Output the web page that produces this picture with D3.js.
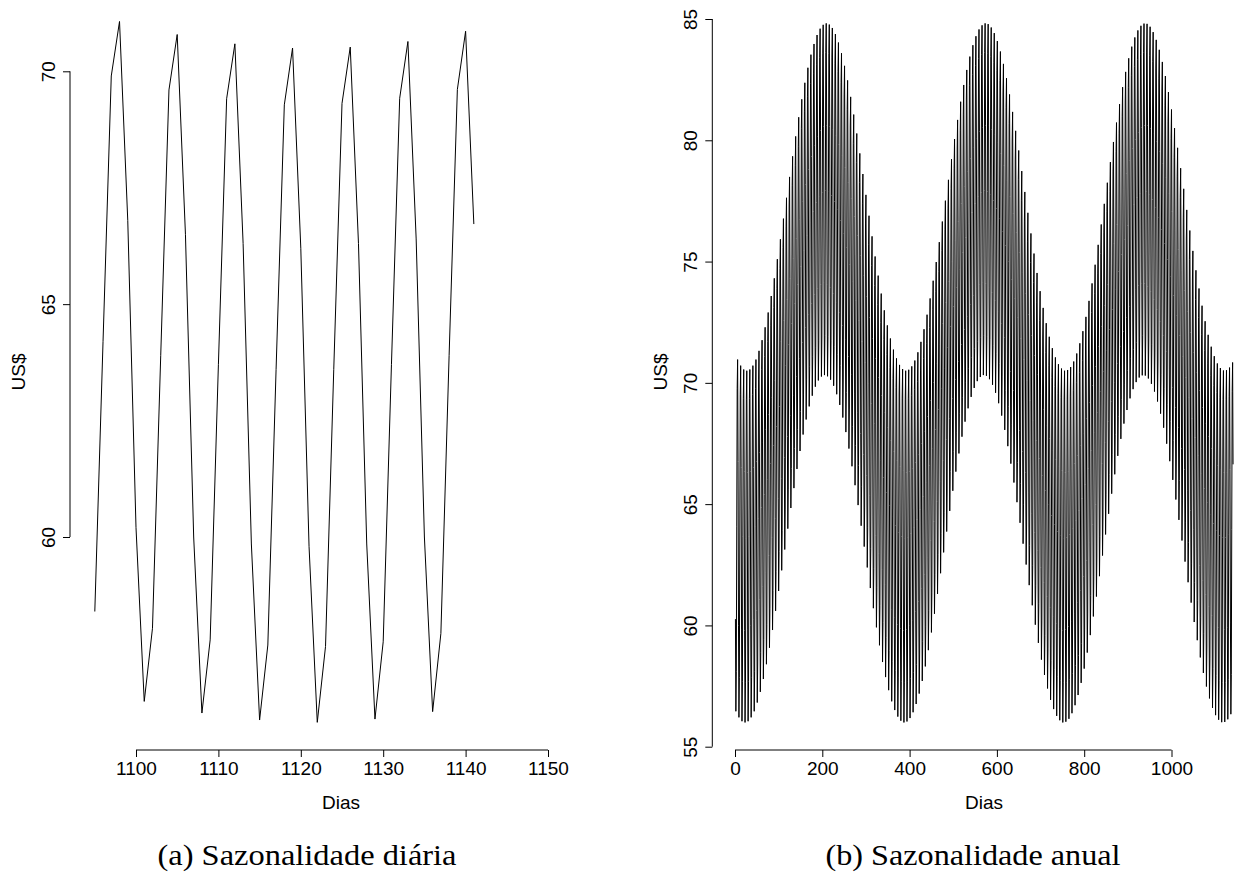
<!DOCTYPE html>
<html>
<head>
<meta charset="utf-8">
<script src="https://cdn.jsdelivr.net/npm/d3@7"></script>
<style>
  html, body { margin: 0; padding: 0; background: #fff; }
  svg { display: block; }
</style>
</head>
<body>
<svg id="chart" width="1237" height="894"></svg>
<script>
// ---------------- DATA ----------------
// (a) Daily seasonality: last 47 days of the series
const startDayA = 1095;
const valuesA = [
  58.4, 64.2, 69.9, 71.07, 66.8, 60.2, 56.47,
  58.04, 63.9, 69.6, 70.79, 66.5, 60.0, 56.22,
  57.79, 63.7, 69.41, 70.59, 66.3, 59.85, 56.07,
  57.68, 63.6, 69.28, 70.5, 66.2, 59.8, 56.02,
  57.65, 63.6, 69.31, 70.52, 66.3, 59.85, 56.09,
  57.75, 63.7, 69.42, 70.64, 66.4, 60.0, 56.25,
  57.93, 63.9, 69.61, 70.86, 66.72
];
const xTicksA = [1100, 1110, 1120, 1130, 1140, 1150];
const yTicksA = [60, 65, 70];

// (b) Annual seasonality: weekly pattern (days 1..7 of each week) + annual level of each week
const weekPatternB = [59.8, 56.0, 57.63, 63.6, 69.3, 70.5, 66.3];
const annualB = [
  0.46, 0.21, 0.05, 0.00, 0.05, 0.21, 0.46, 0.82, 1.26, 1.79,
  2.40, 3.08, 3.81, 4.60, 5.42, 6.27, 7.13, 7.99, 8.84, 9.66,
  10.45, 11.19, 11.87, 12.49, 13.03, 13.47, 13.84, 14.10, 14.26, 14.32,
  14.27, 14.13, 13.88, 13.53, 13.09, 12.57, 11.97, 11.29, 10.56, 9.78,
  8.96, 8.11, 7.25, 6.39, 5.54, 4.71, 3.92, 3.18, 2.49, 1.87,
  1.33, 0.87, 0.51, 0.24, 0.07, 0.00, 0.04, 0.18, 0.42, 0.76,
  1.19, 1.71, 2.31, 2.98, 3.71, 4.48, 5.30, 6.15, 7.01, 7.87,
  8.72, 9.55, 10.34, 11.09, 11.78, 12.40, 12.95, 13.42, 13.79, 14.07,
  14.24, 14.32, 14.29, 14.15, 13.92, 13.59, 13.16, 12.65, 12.06, 11.39,
  10.67, 9.89, 9.08, 8.23, 7.37, 6.51, 5.66, 4.83, 4.03, 3.28,
  2.59, 1.96, 1.40, 0.93, 0.55, 0.27, 0.09, 0.00, 0.03, 0.15,
  0.38, 0.71, 1.13, 1.63, 2.22, 2.88, 3.60, 4.37, 5.19, 6.03,
  6.88, 7.75, 8.60, 9.43, 10.23, 10.99, 11.69, 12.32, 12.88, 13.36,
  13.74, 14.03, 14.22, 14.31, 14.30, 14.18, 13.96, 13.64, 13.23, 12.73,
  12.15, 11.49, 10.77, 10.00, 9.19, 8.35, 7.50, 6.63, 5.78, 4.94,
  4.14, 3.39, 2.68, 2.04, 1.48, 0.99, 0.60, 0.30, 0.11, 0.01,
  0.02, 0.13, 0.34
];
const xTicksB = [0, 200, 400, 600, 800, 1000];
const yTicksB = [55, 60, 65, 70, 75, 80, 85];

const xLabel = "Dias";
const yLabel = "US$";
const captionA = "(a) Sazonalidade diária";
const captionB = "(b) Sazonalidade anual";

// ---------------- BUILD ----------------
const dataA = valuesA.map((v, i) => ({ day: startDayA + i, value: v }));
const dataB = [];
annualB.forEach((lvl, k) => {
  weekPatternB.forEach((w, j) => {
    dataB.push({ day: 7 * k + j + 1, value: lvl + w });
  });
});

const svg = d3.select("#chart");
const FONT = "'Liberation Sans', Arial, Helvetica, sans-serif";
const SERIF = "'Liberation Serif', 'DejaVu Serif', serif";
const FS = 19;

function panel(cfg) {
  const g = svg.append("g");
  const x = d3.scaleLinear().domain(cfg.xDom).range(cfg.xRange);
  const y = d3.scaleLinear().domain(cfg.yDom).range(cfg.yRange);

  // series
  g.append("path")
    .datum(cfg.data)
    .attr("fill", "none")
    .attr("stroke", "#000")
    .attr("stroke-width", cfg.lw)
    .attr("stroke-linejoin", "miter")
    .attr("d", d3.line().x(d => x(d.day)).y(d => y(d.value)));

  // x axis
  const xa = g.append("g")
    .attr("transform", `translate(0,${cfg.xAxisY})`)
    .call(d3.axisBottom(x).tickValues(cfg.xTicks).tickSize(7).tickPadding(5).tickSizeOuter(0).tickFormat(d3.format("d")));
  xa.select(".domain").attr("d", `M${x(cfg.xTicks[0])},0H${x(cfg.xTicks[cfg.xTicks.length - 1])}`);
  xa.selectAll("text").attr("font-family", FONT).attr("font-size", FS).attr("fill", "#000");
  xa.selectAll("line,path").attr("stroke", "#000");

  // y axis
  const ya = g.append("g")
    .attr("transform", `translate(${cfg.yAxisX},0)`)
    .call(d3.axisLeft(y).tickValues(cfg.yTicks).tickSize(7).tickSizeOuter(0).tickFormat(d3.format("d")));
  ya.select(".domain").attr("d", `M0,${y(cfg.yTicks[0])}V${y(cfg.yTicks[cfg.yTicks.length - 1])}`);
  ya.selectAll("line,path").attr("stroke", "#000");
  ya.selectAll("text")
    .attr("font-family", FONT).attr("font-size", FS).attr("fill", "#000")
    .attr("x", 0).attr("y", 0).attr("dy", null)
    .attr("text-anchor", "middle")
    .attr("transform", "translate(-15,0) rotate(-90)");

  // axis titles
  g.append("text")
    .attr("x", cfg.xTitleX).attr("y", 809)
    .attr("text-anchor", "middle")
    .attr("font-family", FONT).attr("font-size", FS)
    .text(xLabel);
  g.append("text")
    .attr("transform", `translate(${cfg.yTitleX},372) rotate(-90)`)
    .attr("text-anchor", "middle")
    .attr("font-family", FONT).attr("font-size", FS)
    .text(yLabel);

  // caption
  g.append("text")
    .attr("x", cfg.capX).attr("y", 865)
    .attr("text-anchor", "middle")
    .attr("font-family", SERIF).attr("font-size", 30)
    .attr("textLength", cfg.capW).attr("lengthAdjust", "spacingAndGlyphs")
    .text(cfg.caption);
}

panel({
  data: dataA,
  xDom: [1100, 1150], xRange: [136, 548],
  yDom: [60, 70], yRange: [537, 71.3],
  xTicks: xTicksA, yTicks: yTicksA,
  xAxisY: 750, yAxisX: 70,
  xTitleX: 341, yTitleX: 25,
  capX: 307, capW: 299, caption: captionA, lw: 1
});

panel({
  data: dataB,
  xDom: [0, 1000], xRange: [735, 1171.5],
  yDom: [55, 85], yRange: [746.7, 19],
  xTicks: xTicksB, yTicks: yTicksB,
  xAxisY: 750, yAxisX: 712.3,
  xTitleX: 984, yTitleX: 667,
  capX: 973, capW: 295, caption: captionB, lw: 1
});
</script>
</body>
</html>
